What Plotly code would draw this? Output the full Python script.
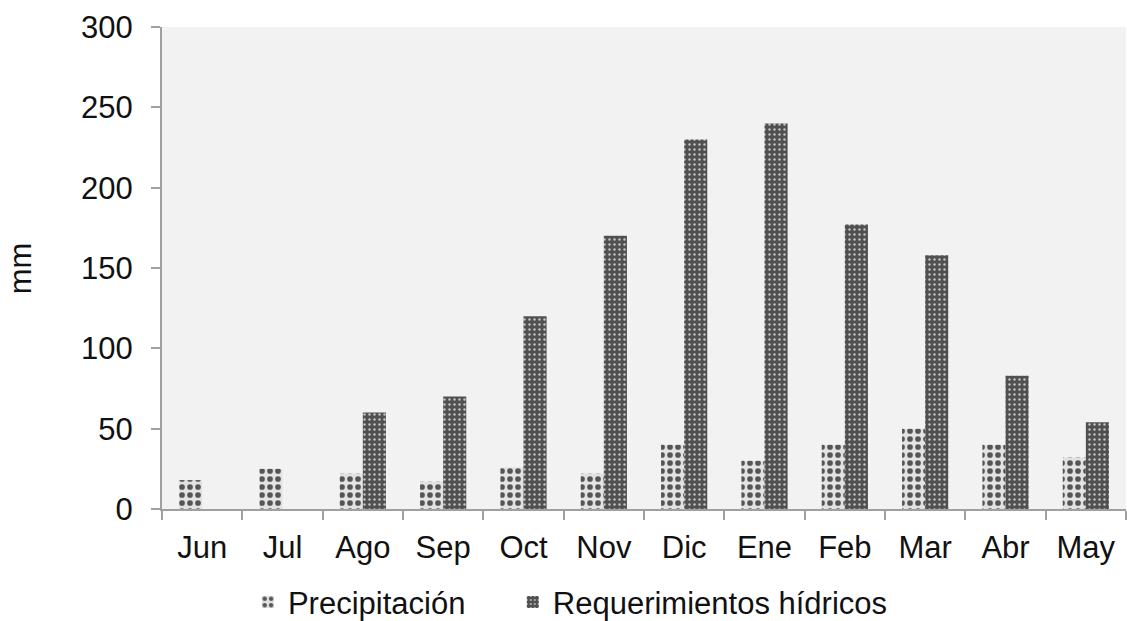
import plotly.graph_objects as go

# Monthly rainfall vs. crop water requirements (mm)
months = ["Jun", "Jul", "Ago", "Sep", "Oct", "Nov", "Dic", "Ene", "Feb", "Mar", "Abr", "May"]
precipitacion = [18, 25, 22, 17, 26, 22, 40, 30, 40, 50, 40, 32]
requerimientos = [0, 0, 60, 70, 120, 170, 230, 240, 177, 158, 83, 54]

FONT = "Liberation Sans, Arial, sans-serif"
AXIS_GRAY = "#a0a0a0"
TEXT = "#111111"
SIZE = 31

fig = go.Figure()
fig.add_trace(go.Bar(
    x=months, y=precipitacion, name="Precipitación", legend="legend",
    marker=dict(
        color="#dcdcdc",
        line=dict(width=0),
        pattern=dict(shape=".", fgcolor="#555555", bgcolor="#e2e2e2",
                     size=8, solidity=0.4, fillmode="replace"),
    ),
))
fig.add_trace(go.Bar(
    x=months, y=requerimientos, name="Requerimientos hídricos", legend="legend2",
    marker=dict(
        color="#505050",
        line=dict(width=0),
        pattern=dict(shape=".", fgcolor="#c4c4c4", bgcolor="#505050",
                     size=5, solidity=0.18, fillmode="replace"),
    ),
))

legend_common = dict(
    orientation="h",
    xref="container", yref="container",
    xanchor="left", y=0.03, yanchor="middle",
    font=dict(family=FONT, size=SIZE, color=TEXT),
    itemwidth=30,
    bgcolor="rgba(0,0,0,0)",
)

fig.update_layout(
    width=1127, height=621,
    margin=dict(l=162, r=1, t=27, b=112, autoexpand=False),
    paper_bgcolor="white",
    plot_bgcolor="#f2f2f2",
    barmode="group",
    bargap=0.425,
    bargroupgap=0,
    font=dict(family=FONT, size=SIZE, color=TEXT),
    showlegend=True,
    legend=dict(x=0.22, **legend_common),
    legend2=dict(x=0.455, **legend_common),
    annotations=[dict(
        text="mm", textangle=-90,
        xref="paper", yref="paper",
        x=-0.147, y=0.5, xanchor="center", yanchor="middle",
        showarrow=False,
        font=dict(family=FONT, size=SIZE, color=TEXT),
    )],
)

fig.update_xaxes(
    automargin=False,
    showline=True, linecolor=AXIS_GRAY, linewidth=2,
    ticks="outside", tickson="boundaries", ticklen=9,
    tickcolor=AXIS_GRAY, tickwidth=2,
    showgrid=False, zeroline=False,
    ticklabelstandoff=10,
)
fig.update_yaxes(
    automargin=False,
    range=[0, 300], dtick=50,
    showline=True, linecolor=AXIS_GRAY, linewidth=2,
    ticks="outside", ticklen=9, tickcolor=AXIS_GRAY, tickwidth=2,
    showgrid=False, zeroline=False,
    ticklabelstandoff=12,
)

fig.write_html("out.html")
